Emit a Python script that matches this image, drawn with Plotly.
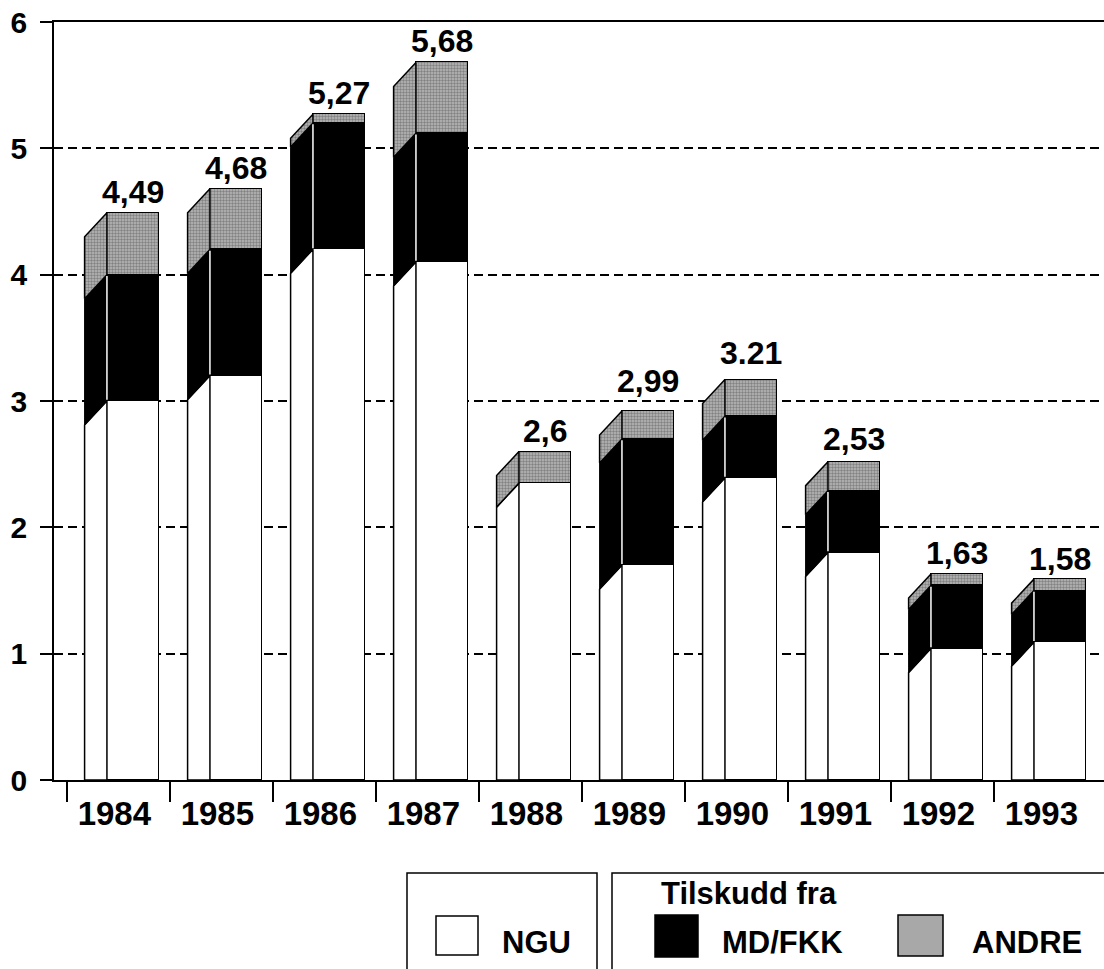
import plotly.graph_objects as go

# ---------------- data ----------------
years = ["1984", "1985", "1986", "1987", "1988", "1989", "1990", "1991", "1992", "1993"]
ngu = [3.00, 3.20, 4.20, 4.10, 2.35, 1.70, 2.39, 1.80, 1.04, 1.09]
md_fkk = [1.00, 1.00, 1.00, 1.02, 0.00, 1.00, 0.49, 0.49, 0.50, 0.41]
andre = [0.49, 0.48, 0.07, 0.56, 0.25, 0.22, 0.29, 0.23, 0.09, 0.09]
total_labels = ["4,49", "4,68", "5,27", "5,68", "2,6", "2,99", "3.21", "2,53", "1,63", "1,58"]
y_ticks = [0, 1, 2, 3, 4, 5, 6]

# ---------------- geometry / style ----------------
W, H = 1104, 969
ML, MR, MT, MB = 54, 0, 22, 189
FONT = "Liberation Sans, Arial, Helvetica, sans-serif"
GRAY_PATTERN = dict(shape=".", bgcolor="#b8b8b8", fgcolor="#4a4a4a", size=3, solidity=0.5)

SIDE_L = -0.329   # left edge of the slanted side face (relative to category centre)
FRONT_L = -0.112  # left edge of the front face
FRONT_R = 0.393   # right edge of the front face
DROP = 0.19       # perspective drop of the side face (y units)

xs = list(range(len(years)))
front_c = [i + (FRONT_L + FRONT_R) / 2 for i in xs]
front_w = FRONT_R - FRONT_L

fig = go.Figure()

# front faces as stacked bars
fig.add_trace(go.Bar(x=front_c, y=ngu, width=front_w, name="NGU",
                     marker=dict(color="white", line=dict(color="black", width=1.5))))
fig.add_trace(go.Bar(x=front_c, y=md_fkk, width=front_w, name="MD/FKK",
                     marker=dict(color="black", line=dict(color="black", width=1.5))))
fig.add_trace(go.Bar(x=front_c, y=andre, width=front_w, name="ANDRE",
                     marker=dict(color="#b8b8b8", pattern=GRAY_PATTERN,
                                 line=dict(color="black", width=1.5))))


def side_polys(bases, tops):
    px_, py_ = [], []
    for i, (b, t) in enumerate(zip(bases, tops)):
        if t - b <= 0:
            continue
        xl, xf = i + SIDE_L, i + FRONT_L
        px_ += [xl, xl, xf, xf, xl, None]
        py_ += [max(b - DROP, 0), t - DROP, t, b, max(b - DROP, 0), None]
    return px_, py_


b0 = [0] * len(years)
t1 = [a for a in ngu]
t2 = [a + b for a, b in zip(ngu, md_fkk)]
t3 = [a + b + c for a, b, c in zip(ngu, md_fkk, andre)]

sx, sy = side_polys(b0, t1)
fig.add_trace(go.Scatter(x=sx, y=sy, mode="lines", fill="toself", fillcolor="white",
                         line=dict(color="black", width=1.5), hoverinfo="skip"))
sx, sy = side_polys(t1, t2)
fig.add_trace(go.Scatter(x=sx, y=sy, mode="lines", fill="toself", fillcolor="black",
                         line=dict(color="black", width=1), hoverinfo="skip"))
sx, sy = side_polys(t2, t3)
fig.add_trace(go.Scatter(x=sx, y=sy, mode="lines", fill="toself", fillcolor="#b8b8b8",
                         fillpattern=GRAY_PATTERN,
                         line=dict(color="black", width=1.5), hoverinfo="skip"))

# white seam between black side and black front
seam_x, seam_y = [], []
for i in xs:
    if md_fkk[i] > 0:
        seam_x += [i + FRONT_L, i + FRONT_L, None]
        seam_y += [t1[i] + 0.01, t2[i] - 0.01, None]
fig.add_trace(go.Scatter(x=seam_x, y=seam_y, mode="lines",
                         line=dict(color="white", width=1.5), hoverinfo="skip"))

# value labels (placed at the stated total)
label_vals = [float(s.replace(",", ".")) for s in total_labels]
for i in xs:
    fig.add_annotation(x=front_c[i], y=label_vals[i], text="<b>%s</b>" % total_labels[i],
                       showarrow=False, yanchor="bottom", yshift=1,
                       font=dict(family=FONT, size=32, color="black"))

fig.update_layout(
    width=W, height=H, margin=dict(l=ML, r=MR, t=MT, b=MB, autoexpand=False),
    paper_bgcolor="white", plot_bgcolor="white",
    barmode="stack", showlegend=False, bargap=0,
    font=dict(family=FONT, color="black"),
)
fig.update_xaxes(
    range=[-0.626, 9.568], showgrid=False, zeroline=False, automargin=False,
    showline=True, linecolor="black", linewidth=1.5, mirror=True,
    tickmode="array", tickvals=[i - 0.04 for i in xs],
    ticktext=["<b>%s</b>" % y for y in years], ticks="",
    tickfont=dict(family=FONT, size=33, color="black"), ticklabelstandoff=4,
    minor=dict(tickmode="array", tickvals=[i - 0.5 for i in xs], ticks="outside",
               ticklen=20, tickwidth=1.5, tickcolor="black", showgrid=False),
)
fig.update_yaxes(
    range=[0, 6], tickmode="array", tickvals=y_ticks, automargin=False,
    ticktext=["<b>%d</b>" % v for v in y_ticks],
    ticks="outside", ticklen=12, tickwidth=1.5, tickcolor="black",
    tickfont=dict(family=FONT, size=30, color="black"), ticklabelstandoff=7,
    showline=True, linecolor="black", linewidth=1.5,
    showgrid=True, gridcolor="black", gridwidth=1.5, griddash="9px,5px",
    zeroline=False,
)


# ---------------- legend (boxes, swatches, text) ----------------
def pxp(x):
    return (x - ML) / (W - ML - MR)


def pyp(y):
    return (H - MB - y) / (H - MT - MB)


shapes = []
shapes.append(dict(type="path", xref="paper", yref="paper",
                   path="M %f,%f L %f,%f L %f,%f L %f,%f" % (
                       pxp(407), pyp(985), pxp(407), pyp(873), pxp(597), pyp(873), pxp(597), pyp(985)),
                   line=dict(color="black", width=1.5)))
shapes.append(dict(type="path", xref="paper", yref="paper",
                   path="M %f,%f L %f,%f L %f,%f" % (
                       pxp(612), pyp(985), pxp(612), pyp(873), pxp(1115), pyp(873)),
                   line=dict(color="black", width=1.5)))
shapes.append(dict(type="rect", xref="paper", yref="paper",
                   x0=pxp(436), x1=pxp(478), y0=pyp(955), y1=pyp(916),
                   fillcolor="white", line=dict(color="black", width=1.5)))
shapes.append(dict(type="rect", xref="paper", yref="paper",
                   x0=pxp(655), x1=pxp(698), y0=pyp(957), y1=pyp(915),
                   fillcolor="black", line=dict(color="black", width=1.5)))
shapes.append(dict(type="rect", xref="paper", yref="paper",
                   x0=pxp(898), x1=pxp(943), y0=pyp(956), y1=pyp(915),
                   fillcolor="#a8a8a8", line=dict(color="black", width=1.5)))
fig.update_layout(shapes=shapes)

for txt, x, ymid in [("NGU", 500, 942), ("Tilskudd fra", 659, 893),
                     ("MD/FKK", 720, 942), ("ANDRE", 970, 942)]:
    fig.add_annotation(xref="paper", yref="paper", x=pxp(x), y=pyp(ymid),
                       xanchor="left", yanchor="middle", showarrow=False,
                       text="<b>%s</b>" % txt,
                       font=dict(family=FONT, size=31, color="black"))

fig.write_html("out.html", config={"displayModeBar": False},
               post_script="document.body.style.margin='0';")
